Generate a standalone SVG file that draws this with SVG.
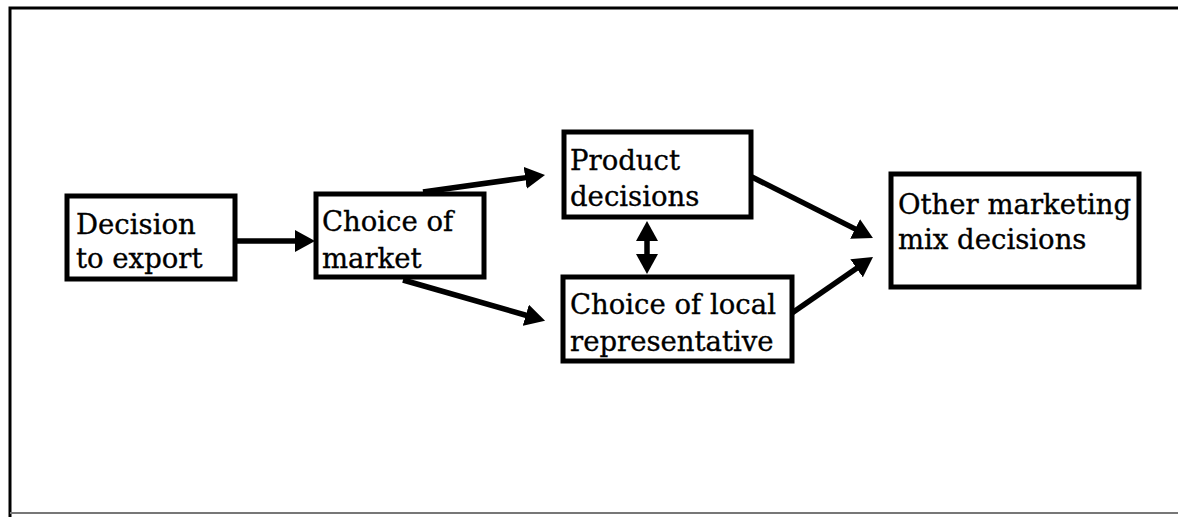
<svg xmlns="http://www.w3.org/2000/svg" width="1178" height="517" viewBox="0 0 1178 517">
  <style>
    .box { fill: #fff; stroke: #000; stroke-width: 5; }
    .lbl { font-family: "DejaVu Serif", "Liberation Serif", serif; font-size: 27.5px; fill: #000; stroke: #000; stroke-width: 0.35; }
    .conn { stroke: #000; stroke-width: 5.5; fill: none; }
    .frame { stroke: #000; stroke-width: 3; fill: none; }
  </style>
  <defs>
    <marker id="head" markerUnits="userSpaceOnUse" markerWidth="20" markerHeight="22" viewBox="0 0 20 22" refX="1" refY="11" orient="auto-start-reverse">
      <path d="M0,0 L20,11 L0,22 z" fill="#000"/>
    </marker>
  </defs>

  <!-- page frame -->
  <g id="frame">
    <path class="frame" d="M10,517 L10,8 L1178,8"/>
    <line x1="10" y1="513" x2="1178" y2="513" stroke="#777" stroke-width="2"/>
  </g>

  <g id="decision-to-export">
    <rect class="box" x="67" y="196" width="168" height="83"/>
    <text class="lbl" x="76" y="234">Decision</text>
    <text class="lbl" x="76" y="268">to export</text>
  </g>

  <g id="choice-of-market">
    <rect class="box" x="316" y="194" width="168" height="83"/>
    <text class="lbl" x="322" y="231">Choice of</text>
    <text class="lbl" x="322" y="268">market</text>
  </g>

  <g id="product-decisions">
    <rect class="box" x="564" y="132" width="187" height="85"/>
    <text class="lbl" x="570" y="170">Product</text>
    <text class="lbl" x="570" y="206">decisions</text>
  </g>

  <g id="local-representative">
    <rect class="box" x="563" y="277" width="229" height="84"/>
    <text class="lbl" x="570" y="314">Choice of local</text>
    <text class="lbl" x="570" y="351">representative</text>
  </g>

  <g id="other-marketing-mix">
    <rect class="box" x="891" y="174" width="248" height="113"/>
    <text class="lbl" x="898" y="214">Other marketing</text>
    <text class="lbl" x="898" y="249">mix decisions</text>
  </g>

  <g id="connectors">
    <line class="conn" x1="236" y1="241" x2="296" y2="241" marker-end="url(#head)"/>
    <line class="conn" x1="423" y1="192" x2="526.2" y2="177.6" marker-end="url(#head)"/>
    <line class="conn" x1="403" y1="280" x2="526.8" y2="315.5" marker-end="url(#head)"/>
    <line class="conn" x1="647" y1="240" x2="647" y2="255" marker-start="url(#head)" marker-end="url(#head)"/>
    <line class="conn" x1="752" y1="177" x2="856" y2="229.4" marker-end="url(#head)"/>
    <line class="conn" x1="792" y1="313" x2="857.4" y2="267.8" marker-end="url(#head)"/>
  </g>
</svg>
